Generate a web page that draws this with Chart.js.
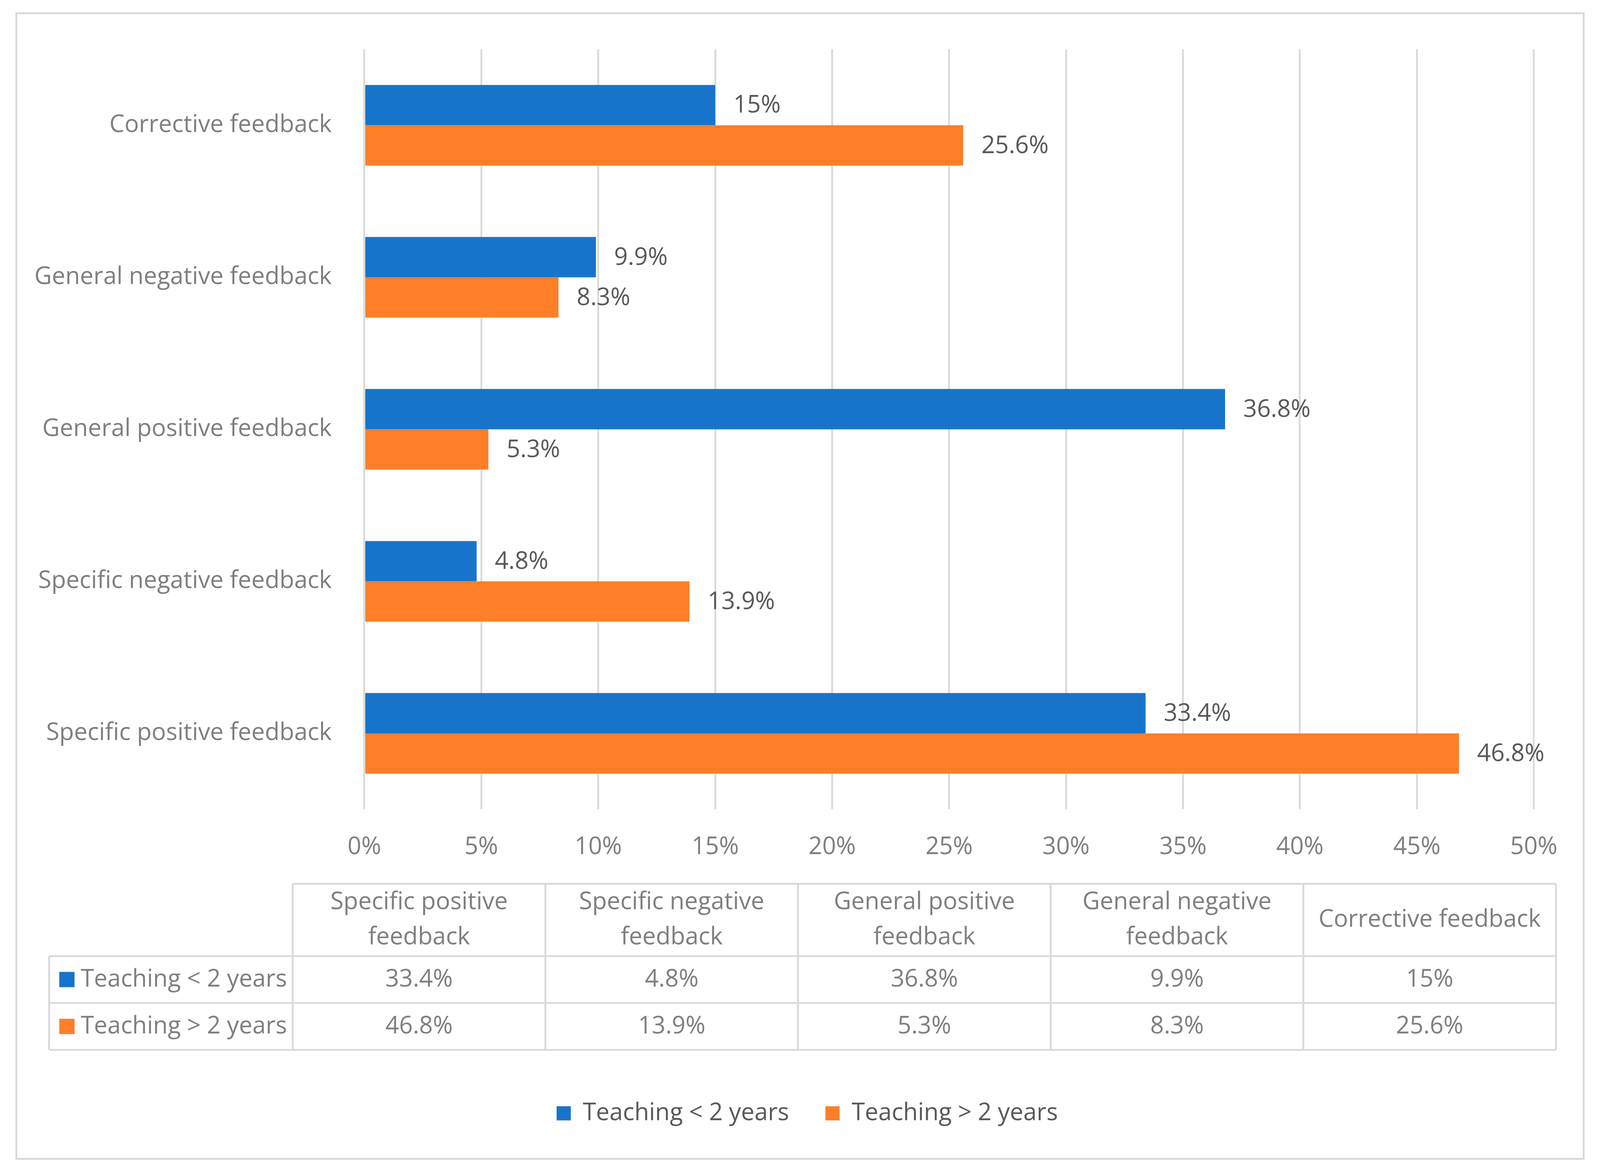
<!DOCTYPE html>
<html>
<head>
<meta charset="utf-8">
<script src="https://cdn.jsdelivr.net/npm/chart.js@4.4.0/dist/chart.umd.min.js"></script>
<style>
  html, body { margin: 0; padding: 0; background: #fff; overflow: hidden; }
  #wrap { width: 100vw; height: 100vh; position: relative; }
</style>
</head>
<body>
<div id="wrap"><canvas id="chart"></canvas></div>
<script>
// categories in data-table order (first one ends up at the bottom of the bars)
const categories = [
    'Specific positive feedback',
    'Specific negative feedback',
    'General positive feedback',
    'General negative feedback',
    'Corrective feedback'
];
const seriesNames = ['Teaching < 2 years', 'Teaching > 2 years'];
const lessThan2Years = [33.4, 4.8, 36.8, 9.9, 15];
const moreThan2Years = [46.8, 13.9, 5.3, 8.3, 25.6];
const axisMin = 0;
const axisMax = 50;
const axisStep = 5;

const colors = ['#1874cb', '#fe7f27'];
const FONT = "'Open Sans', 'Noto Sans', sans-serif";
const gridGray = '#d9d9d9';
const axisText = '#7f7f7f';
const labelText = '#595959';

// layout is designed on a 4400 x 2997 canvas and scaled to the real window
const S = window.innerWidth / 4400;
const SY = window.innerHeight / 2997;
const px = (v) => v * S;
const py = (v) => v * SY;
const FONT_SIZE = px(66);

// data table geometry (design px)
const table = {
    left: 135, labelRight: 805, right: 4279,
    top: 2262, headerBottom: 2447, row1Bottom: 2567, row2Bottom: 2687
};

function wrapText(ctx, text, maxWidth){
    const words = text.split(' ');
    const lines = [];
    let line = '';
    words.forEach(w => {
        const test = line ? line + ' ' + w : w;
        if (line && ctx.measureText(test).width > maxWidth) {
            lines.push(line);
            line = w;
        } else {
            line = test;
        }
    });
    if (line) lines.push(line);
    return lines;
}

const framePlugin = {
    id: 'frame',
    beforeDraw: (chart) => {
        const ctx = chart.ctx;
        ctx.save();
        ctx.fillStyle = '#fff';
        ctx.fillRect(0, 0, chart.width, chart.height);
        ctx.strokeStyle = gridGray;
        ctx.lineWidth = px(5);
        ctx.strokeRect(px(45), py(34), px(4310), py(2932));
        ctx.restore();
    }
};

const valueLabels = {
    id: 'valueLabels',
    afterDatasetsDraw: (chart) => {
        const ctx = chart.ctx;
        ctx.save();
        ctx.font = `${FONT_SIZE}px ${FONT}`;
        ctx.fillStyle = labelText;
        ctx.textAlign = 'left';
        ctx.textBaseline = 'middle';
        chart.data.datasets.forEach((ds, i) => {
            chart.getDatasetMeta(i).data.forEach((bar, j) => {
                ctx.fillText(ds.data[j] + '%', bar.x + px(50), bar.y + py(2));
            });
        });
        ctx.restore();
    }
};

const dataTable = {
    id: 'dataTable',
    afterDraw: (chart) => {
        const ctx = chart.ctx;
        const colW = px((table.right - table.labelRight) / categories.length);
        const left = px(table.left), labelRight = px(table.labelRight), right = px(table.right);
        const top = py(table.top), headerBottom = py(table.headerBottom);
        const row1Bottom = py(table.row1Bottom), row2Bottom = py(table.row2Bottom);
        ctx.save();
        ctx.strokeStyle = gridGray;
        ctx.lineWidth = px(5);
        ctx.beginPath();
        ctx.moveTo(labelRight, top); ctx.lineTo(right, top);
        [headerBottom, row1Bottom, row2Bottom].forEach(y => {
            ctx.moveTo(left, y); ctx.lineTo(right, y);
        });
        ctx.moveTo(left, headerBottom); ctx.lineTo(left, row2Bottom);
        for (let k = 0; k <= categories.length; k++) {
            const x = labelRight + k * colW;
            ctx.moveTo(x, top); ctx.lineTo(x, row2Bottom);
        }
        ctx.stroke();

        ctx.font = `${FONT_SIZE}px ${FONT}`;
        ctx.fillStyle = axisText;
        ctx.textAlign = 'center';
        ctx.textBaseline = 'middle';
        const headMid = (top + headerBottom) / 2;
        categories.forEach((cat, k) => {
            const cx = labelRight + (k + 0.5) * colW;
            const lines = wrapText(ctx, cat, colW - px(60));
            lines.forEach((ln, n) => {
                ctx.fillText(ln, cx, headMid + (n - (lines.length - 1) / 2) * py(90));
            });
        });

        const rows = [
            {mid: (headerBottom + row1Bottom) / 2, ds: chart.data.datasets[0]},
            {mid: (row1Bottom + row2Bottom) / 2, ds: chart.data.datasets[1]}
        ];
        rows.forEach(r => {
            ctx.textAlign = 'center';
            ctx.fillStyle = axisText;
            r.ds.data.forEach((v, k) => {
                ctx.fillText(v + '%', labelRight + (k + 0.5) * colW, r.mid);
            });
            ctx.fillStyle = r.ds.backgroundColor;
            ctx.fillRect(px(163), r.mid - px(21), px(42), px(42));
            ctx.fillStyle = axisText;
            ctx.textAlign = 'left';
            ctx.fillText(r.ds.label, px(222), r.mid);
        });
        ctx.restore();
    }
};

new Chart(document.getElementById('chart'), {
    type: 'bar',
    data: {
        labels: categories,
        datasets: [{
            label: seriesNames[0],
            data: lessThan2Years,
            backgroundColor: colors[0],
            borderWidth: 0,
            yAxisID: 'y'
        }, {
            label: seriesNames[1],
            data: moreThan2Years,
            backgroundColor: colors[1],
            borderWidth: 0,
            yAxisID: 'y'
        }]
    },
    options: {
        indexAxis: 'y',
        responsive: true,
        maintainAspectRatio: false,
        animation: false,
        categoryPercentage: 0.53,
        barPercentage: 1,
        layout: {
            padding: {top: py(126), right: px(20), bottom: py(107), left: px(60)}
        },
        scales: {
            x: {
                min: axisMin,
                max: axisMax,
                ticks: {
                    stepSize: axisStep,
                    padding: py(60),
                    color: axisText,
                    font: {family: FONT, size: FONT_SIZE},
                    callback: (v) => v + '%'
                },
                grid: {color: gridGray, lineWidth: px(5), drawTicks: false},
                border: {display: false},
                afterFit: (scale) => { scale.height = py(654); }
            },
            y: {
                reverse: true,
                ticks: {
                    padding: px(90),
                    color: axisText,
                    font: {family: FONT, size: FONT_SIZE}
                },
                grid: {display: false, drawTicks: false},
                border: {display: false},
                afterFit: (scale) => { scale.width = px(942); }
            },
            // empty spacer on the right so the legend sits where it does in the original
            yRight: {
                type: 'category',
                axis: 'y',
                position: 'right',
                ticks: {display: false},
                grid: {display: false, drawTicks: false},
                border: {display: false},
                afterFit: (scale) => { scale.width = px(162); }
            }
        },
        plugins: {
            legend: {
                position: 'bottom',
                labels: {
                    boxWidth: px(39),
                    boxHeight: px(39),
                    padding: px(100),
                    color: labelText,
                    font: {family: FONT, size: FONT_SIZE}
                }
            },
            tooltip: {enabled: false}
        }
    },
    plugins: [framePlugin, valueLabels, dataTable]
});
</script>
</body>
</html>
